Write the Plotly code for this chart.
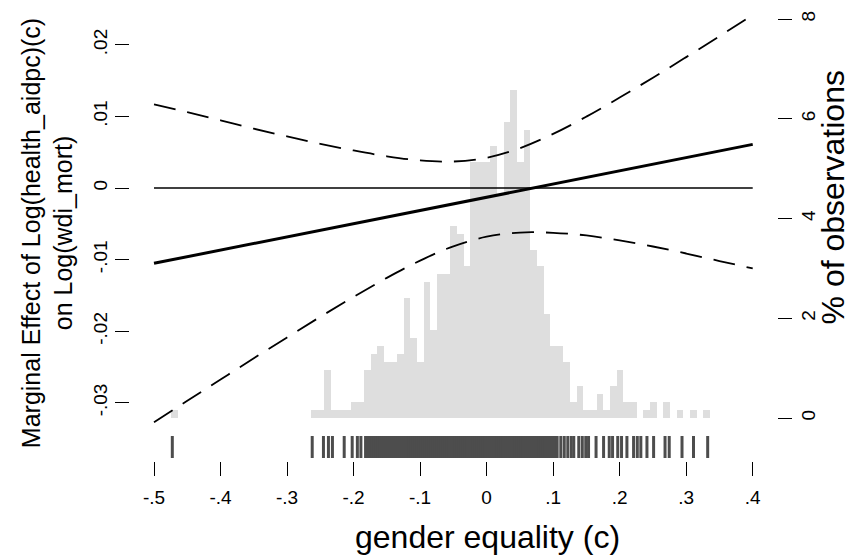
import plotly.graph_objects as go

# ---------------- data ----------------
# marginal effect line (endpoints of the linear effect)
me_x = [-0.5, 0.4]
me_y = [-0.01052, 0.00609]

# confidence band
ci_x = [-0.5, -0.45, -0.4, -0.35, -0.3, -0.25, -0.2, -0.15, -0.1, -0.05,
        0.0, 0.05, 0.1, 0.15, 0.2, 0.25, 0.3, 0.35, 0.4]
ci_upper = [0.01169, 0.01059, 0.00946, 0.00828, 0.00721, 0.00617, 0.00524,
            0.00443, 0.00385, 0.00370, 0.00423, 0.00556, 0.00756, 0.00997,
            0.01263, 0.01541, 0.01828, 0.02120, 0.02416]
ci_lower = [-0.03272, -0.02972, -0.02675, -0.02378, -0.02087, -0.01799,
            -0.01521, -0.01255, -0.01014, -0.00814, -0.00680, -0.00622,
            -0.00626, -0.00663, -0.00733, -0.00817, -0.00915, -0.01020,
            -0.01124]

# histogram (% of observations), bin centres
hist_x = [-0.4695,
          -0.2595, -0.2495, -0.2395, -0.2295, -0.2195, -0.2095, -0.1995,
          -0.1895, -0.1795, -0.1695, -0.1595, -0.1495, -0.1395, -0.1295,
          -0.1195, -0.1095, -0.0995, -0.0895, -0.0795, -0.0695, -0.0595,
          -0.0495, -0.0395, -0.0295, -0.0195, -0.0095, 0.0005, 0.0105,
          0.0205, 0.0305, 0.0405, 0.0505, 0.0605, 0.0705, 0.0805, 0.0905,
          0.1005, 0.1105, 0.1205, 0.1305, 0.1405, 0.1505, 0.1605, 0.1705,
          0.1805, 0.1905, 0.2005, 0.2105, 0.2205, 0.2305, 0.2405, 0.2505,
          0.2605, 0.2705, 0.2805, 0.2905, 0.3005, 0.3105, 0.3205, 0.3305]
hist_pct = [0.16,
            0.16, 0.16, 0.96, 0.16, 0.16, 0.16, 0.32,
            0.32, 0.96, 1.28, 1.44, 1.12, 1.12, 1.28,
            2.40, 1.60, 1.12, 2.72, 1.76, 2.88, 2.88,
            3.85, 3.69, 3.05, 5.13, 5.13, 5.13, 5.45,
            4.50, 5.93, 6.57, 5.13, 5.77, 3.37, 3.05, 2.08,
            1.44, 1.44, 1.12, 0.32, 0.64, 0.16, 0.16, 0.48,
            0.16, 0.64, 0.96, 0.32, 0.32, 0.0, 0.16, 0.32,
            0.0, 0.32, 0.0, 0.16, 0.0, 0.16, 0.0, 0.16]

# rug of observed moderator values
rug_vals = [-0.4725, -0.2622, -0.2453, -0.2378, -0.2318, -0.2141, -0.2021,
            -0.1943, -0.1890,
            -0.182, -0.179, -0.176, -0.173, -0.170, -0.167, -0.164, -0.161,
            -0.158, -0.155, -0.152, -0.149, -0.146, -0.143, -0.140, -0.137,
            -0.134, -0.131, -0.128, -0.125, -0.122, -0.119, -0.116, -0.113,
            -0.110, -0.107, -0.104, -0.101, -0.098, -0.095, -0.092, -0.089,
            -0.086, -0.083, -0.080, -0.077, -0.074, -0.071, -0.068, -0.065,
            -0.062, -0.059, -0.056, -0.053, -0.050, -0.047, -0.044, -0.041,
            -0.038, -0.035, -0.032, -0.029, -0.026, -0.023, -0.020, -0.017,
            -0.014, -0.011, -0.008, -0.005, -0.002, 0.001, 0.004, 0.007,
            0.010, 0.013, 0.016, 0.019, 0.022, 0.025, 0.028, 0.031, 0.034,
            0.037, 0.040, 0.043, 0.046, 0.049, 0.052, 0.055, 0.058, 0.061,
            0.064, 0.067, 0.070, 0.073, 0.076, 0.079, 0.082, 0.085, 0.088,
            0.091, 0.094, 0.097, 0.100, 0.103, 0.106,
            0.1115, 0.1167, 0.1220, 0.1272, 0.1310, 0.1385, 0.1438, 0.1490,
            0.1532, 0.1645, 0.1758, 0.1843, 0.1893, 0.1971, 0.2028, 0.2109,
            0.2209, 0.2265, 0.2318, 0.2410, 0.2510, 0.2682, 0.2745, 0.2937,
            0.3110, 0.3323]

x_ticks = [-0.5, -0.4, -0.3, -0.2, -0.1, 0.0, 0.1, 0.2, 0.3, 0.4]
x_ticklabels = ["-.5", "-.4", "-.3", "-.2", "-.1", "0", ".1", ".2", ".3", ".4"]
me_ticks = [-0.03, -0.02, -0.01, 0.0, 0.01, 0.02]
me_ticklabels = ["-.03", "-.02", "-.01", "0", ".01", ".02"]
pct_ticks = [0, 2, 4, 6, 8]
pct_ticklabels = ["0", "2", "4", "6", "8"]

x_title = "gender equality (c)"
me_title = "Marginal Effect of Log(health_aidpc)(c)<br>on Log(wdi_mort)"
pct_title = "% of observations"

# ---------------- figure ----------------
FONT = "Liberation Sans, Arial, Helvetica, sans-serif"
RUG_LO, RUG_HI = -0.03771, -0.03464

fig = go.Figure()

fig.add_trace(go.Bar(x=hist_x, y=hist_pct, width=0.01, xaxis="x", yaxis="y",
                     marker=dict(color="#dedede", line=dict(width=0)),
                     hoverinfo="skip", showlegend=False))

rx, ry = [], []
for v in rug_vals:
    rx += [v, v, None]
    ry += [RUG_LO, RUG_HI, None]
fig.add_trace(go.Scatter(x=rx, y=ry, mode="lines", xaxis="x", yaxis="y2",
                         line=dict(color="#4d4d4d", width=3),
                         hoverinfo="skip", showlegend=False))

fig.add_trace(go.Scatter(x=[me_x[0], me_x[-1]], y=[0, 0], mode="lines",
                         xaxis="x", yaxis="y2",
                         line=dict(color="black", width=1.6),
                         showlegend=False))
for band in (ci_upper, ci_lower):
    fig.add_trace(go.Scatter(x=ci_x, y=band, mode="lines", xaxis="x",
                             yaxis="y2",
                             line=dict(color="black", width=1.8,
                                       dash="22px,12px", shape="spline"),
                             showlegend=False))
fig.add_trace(go.Scatter(x=me_x, y=me_y, mode="lines", xaxis="x", yaxis="y2",
                         line=dict(color="black", width=3),
                         showlegend=False))

axis_common = dict(showgrid=False, zeroline=False, showline=False,
                   ticks="outside", ticklen=14, tickwidth=1.3,
                   tickcolor="black",
                   tickfont=dict(family=FONT, size=19, color="black"))

fig.update_layout(
    width=861, height=555,
    margin=dict(l=130, r=84, t=5, b=94),
    paper_bgcolor="white", plot_bgcolor="white",
    font=dict(family=FONT, color="black"),
    bargap=0,
    xaxis=dict(range=[-0.5361, 0.4365], tickvals=x_ticks,
               ticktext=x_ticklabels, ticklabelstandoff=5,
               **axis_common),
    yaxis=dict(side="right", range=[-0.862, 8.281], tickvals=pct_ticks,
               ticktext=pct_ticklabels, tickangle=-90,
               **axis_common),
    yaxis2=dict(side="left", overlaying="y", range=[-0.03813, 0.02556],
                tickvals=me_ticks, ticktext=me_ticklabels, tickangle=-90,
                title=dict(text=me_title, font=dict(family=FONT, size=25),
                           standoff=10),
                **axis_common),
    annotations=[
        dict(text=x_title, xref="paper", yref="paper", x=0.5533, y=-0.1667,
             xanchor="center", yanchor="middle", showarrow=False,
             font=dict(family=FONT, size=32, color="black")),
        dict(text=pct_title, xref="paper", yref="paper", x=1.0880, y=0.5779,
             xanchor="center", yanchor="middle", showarrow=False,
             textangle=-90,
             font=dict(family=FONT, size=32, color="black")),
    ],
)

fig.write_html("out.html")
